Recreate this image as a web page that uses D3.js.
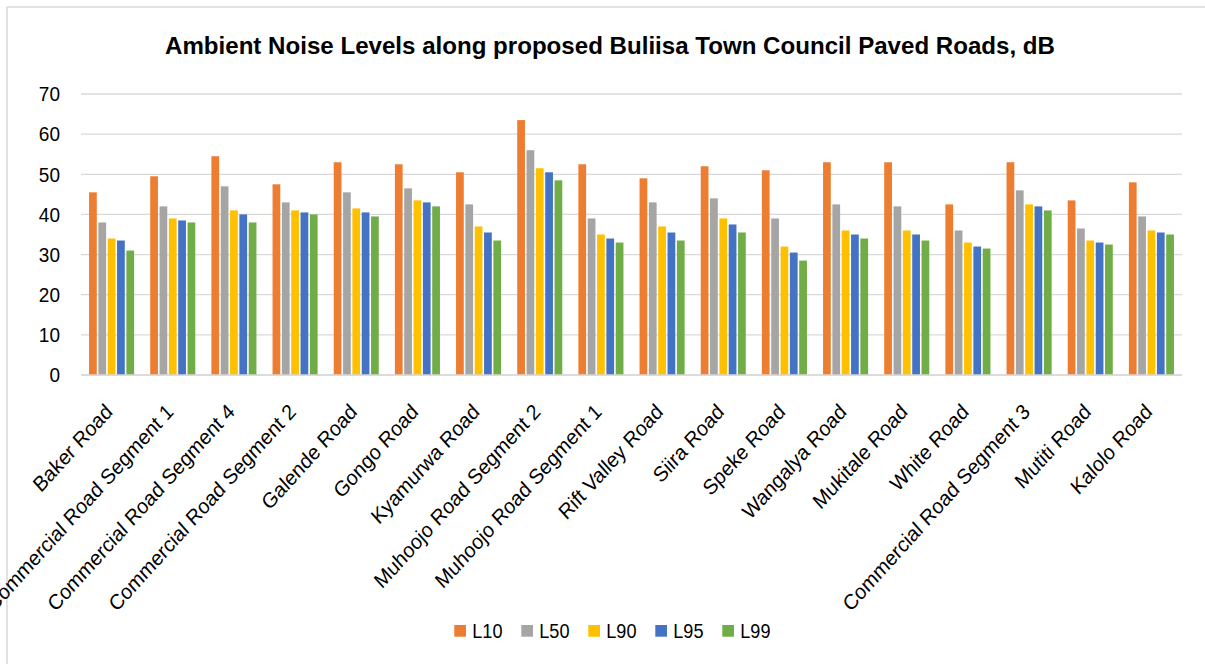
<!DOCTYPE html>
<html>
<head>
<meta charset="utf-8">
<script src="https://cdn.jsdelivr.net/npm/d3@7"></script>
<style>
  html, body { margin: 0; padding: 0; background: #fff; }
  svg { display: block; font-family: "Liberation Sans", Arial, sans-serif; }
</style>
</head>
<body>
<svg id="chart" width="1205" height="664"></svg>
<script>
// Road segments (x categories)
const roads = [
  "Baker Road", "Commercial Road Segment 1", "Commercial Road Segment 4",
  "Commercial Road Segment 2", "Galende Road", "Gongo Road", "Kyamurwa Road",
  "Muhoojo Road Segment 2", "Muhoojo Road Segment 1", "Rift Valley Road",
  "Siira Road", "Speke Road", "Wangalya Road", "Mukitale Road", "White Road",
  "Commercial Road Segment 3", "Mutiti Road", "Kalolo Road"
];

// Statistical noise levels, dB
const seriesNames = ["L10", "L50", "L90", "L95", "L99"];
const L10 = [45.5, 49.5, 54.5, 47.5, 53, 52.5, 50.5, 63.5, 52.5, 49, 52, 51, 53, 53, 42.5, 53, 43.5, 48];
const L50 = [38, 42, 47, 43, 45.5, 46.5, 42.5, 56, 39, 43, 44, 39, 42.5, 42, 36, 46, 36.5, 39.5];
const L90 = [34, 39, 41, 41, 41.5, 43.5, 37, 51.5, 35, 37, 39, 32, 36, 36, 33, 42.5, 33.5, 36];
const L95 = [33.5, 38.5, 40, 40.5, 40.5, 43, 35.5, 50.5, 34, 35.5, 37.5, 30.5, 35, 35, 32, 42, 33, 35.5];
const L99 = [31, 38, 38, 40, 39.5, 42, 33.5, 48.5, 33, 33.5, 35.5, 28.5, 34, 33.5, 31.5, 41, 32.5, 35];

const yTicks = [0, 10, 20, 30, 40, 50, 60, 70];
const colors = ["#ED7D31", "#A5A5A5", "#FFC000", "#4472C4", "#70AD47"];
const titleText = "Ambient Noise Levels along proposed Buliisa Town Council Paved Roads, dB";

const values = [L10, L50, L90, L95, L99];
const rows = roads.map((r, i) => {
  const o = { road: r };
  seriesNames.forEach((s, k) => { o[s] = values[k][i]; });
  return o;
});

const svg = d3.select("#chart");
const W = 1205, H = 664;
const plot = { left: 81, right: 1182, top: 94, bottom: 375 };
const narrow = 0.905; // horizontal text compression

// Outer frame (left and top edges)
svg.append("line").attr("x1", 7).attr("x2", 7).attr("y1", 7).attr("y2", H)
  .attr("stroke", "#d9d9d9").attr("stroke-width", 1.5);
svg.append("line").attr("x1", 7).attr("x2", W).attr("y1", 7).attr("y2", 7)
  .attr("stroke", "#d9d9d9").attr("stroke-width", 1.5);

// Title
svg.append("text")
  .attr("x", 610).attr("y", 54)
  .attr("text-anchor", "middle")
  .attr("font-size", 24.5).attr("font-weight", "bold").attr("fill", "#000")
  .attr("textLength", 890).attr("lengthAdjust", "spacingAndGlyphs")
  .text(titleText);

const x = d3.scaleBand().domain(roads).range([plot.left, plot.right])
  .paddingInner(0.237).paddingOuter(0.1185);
const xs = d3.scaleBand().domain(seriesNames).range([0, x.bandwidth()]);
const y = d3.scaleLinear().domain([0, 70]).range([plot.bottom, plot.top]);

// Gridlines
svg.append("g").selectAll("line").data(yTicks).join("line")
  .attr("x1", plot.left).attr("x2", plot.right)
  .attr("y1", d => y(d)).attr("y2", d => y(d))
  .attr("stroke", "#d9d9d9").attr("stroke-width", 1.3);

// Y axis labels
const yAxis = d3.axisLeft(y).tickValues(yTicks).tickSize(0).tickPadding(0);
const gy = svg.append("g").attr("transform", `translate(60,0)`).call(yAxis);
gy.select(".domain").remove();
gy.selectAll("text").attr("font-size", 21).attr("fill", "#000")
  .attr("font-family", "Liberation Sans, Arial, sans-serif")
  .attr("transform", `scale(${narrow},1)`);

// Bars
const groups = svg.append("g").selectAll("g").data(rows).join("g")
  .attr("transform", d => `translate(${x(d.road)},0)`);
groups.selectAll("rect")
  .data(d => seriesNames.map((s, k) => ({ key: s, value: d[s], color: colors[k] })))
  .join("rect")
  .attr("x", d => xs(d.key) + 0.8)
  .attr("width", xs.bandwidth() - 1.6)
  .attr("y", d => y(d.value))
  .attr("height", d => y(0) - y(d.value))
  .attr("fill", d => d.color);

// Baseline
svg.append("line").attr("x1", plot.left).attr("x2", plot.right)
  .attr("y1", y(0)).attr("y2", y(0)).attr("stroke", "#d9d9d9").attr("stroke-width", 1.3);

// X axis labels (rotated, compressed horizontally)
const xAxis = d3.axisBottom(x).tickSize(0).tickPadding(0);
const gx = svg.append("g").attr("transform", `translate(0,${plot.bottom})`).call(xAxis);
gx.select(".domain").remove();
gx.selectAll("text")
  .attr("font-size", 21.5).attr("fill", "#000")
  .attr("font-family", "Liberation Sans, Arial, sans-serif")
  .attr("text-anchor", "end")
  .attr("dy", null).attr("y", 0)
  .attr("transform", `translate(2,38) scale(${narrow},1) rotate(-45)`);

// Legend
const legend = svg.append("g").selectAll("g").data(seriesNames).join("g")
  .attr("transform", (d, i) => `translate(${454.3 + i * 67},0)`);
legend.append("rect").attr("x", 0).attr("y", 625).attr("width", 11.7).attr("height", 11.7)
  .attr("fill", (d, i) => colors[i]);
legend.append("text")
  .attr("transform", `translate(18,637.5) scale(${narrow},1)`)
  .attr("font-size", 20).attr("fill", "#000").text(d => d);
</script>
</body>
</html>
